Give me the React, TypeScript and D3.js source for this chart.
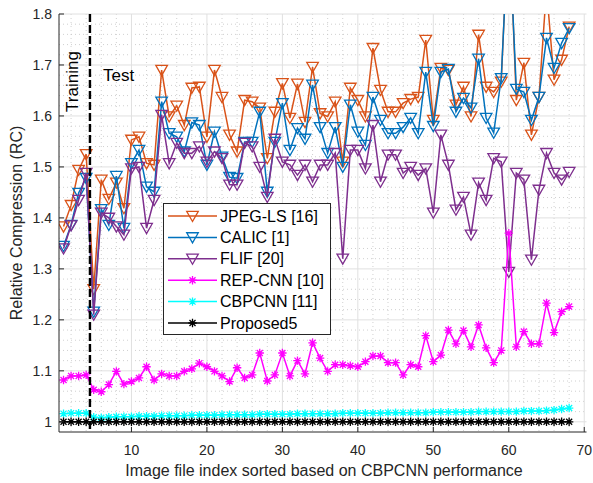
import { useEffect, useRef } from 'react';
import * as d3 from 'd3';

// Relative compression per image (index 1..68)
const jpegLs = [
  1.383, 1.425, 1.494, 1.525, 1.26, 1.475, 1.437, 1.469, 1.419, 1.553,
  1.559, 1.507, 1.504, 1.69, 1.599, 1.62, 1.582, 1.655, 1.657, 1.559,
  1.69, 1.637, 1.563, 1.53, 1.631, 1.628, 1.616, 1.517, 1.608, 1.664,
  1.596, 1.663, 1.588, 1.696, 1.605, 1.599, 1.628, 1.51, 1.655, 1.631,
  1.599, 1.733, 1.651, 1.608, 1.608, 1.625, 1.633, 1.637, 1.749, 1.592,
  1.694, 1.69, 1.622, 1.657, 1.599, 1.759, 1.657, 1.647, 1.667, 2.0,
  1.631, 1.704, 1.563, 1.637, 1.85, 1.671, 1.71, 1.775,
];
const calic = [
  1.345, 1.386, 1.449, 1.478, 1.216, 1.417, 1.386, 1.482, 1.38, 1.507,
  1.533, 1.461, 1.451, 1.628, 1.566, 1.559, 1.53, 1.587, 1.582, 1.504,
  1.569, 1.52, 1.48, 1.478, 1.549, 1.549, 1.608, 1.451, 1.549, 1.625,
  1.533, 1.576, 1.555, 1.661, 1.578, 1.527, 1.578, 1.5, 1.622, 1.569,
  1.543, 1.637, 1.592, 1.566, 1.566, 1.578, 1.596, 1.566, 1.686, 1.58,
  1.686, 1.692, 1.608, 1.635, 1.616, 1.712, 1.596, 1.567, 1.674, 1.98,
  1.653, 1.647, 1.592, 1.637, 1.753, 1.694, 1.743, 1.772,
];
const flif = [
  1.34, 1.385, 1.435, 1.488, 1.21, 1.41, 1.4, 1.383, 1.367, 1.497,
  1.5, 1.38, 1.435, 1.602, 1.507, 1.547, 1.527, 1.527, 1.54, 1.51,
  1.53, 1.517, 1.465, 1.465, 1.547, 1.54, 1.5, 1.441, 1.555, 1.51,
  1.504, 1.484, 1.504, 1.471, 1.504, 1.504, 1.527, 1.32, 1.533, 1.533,
  1.497, 1.582, 1.471, 1.524, 1.524, 1.488, 1.5, 1.484, 1.497, 1.41,
  1.563, 1.504, 1.416, 1.441, 1.367, 1.469, 1.435, 1.517, 1.51, 1.294,
  1.488, 1.475, 1.318, 1.455, 1.527, 1.488, 1.475, 1.49,
];
const repCnn = [
  1.082, 1.09, 1.09, 1.092, 1.063, 1.059, 1.073, 1.099, 1.074, 1.079,
  1.086, 1.108, 1.082, 1.094, 1.09, 1.09, 1.099, 1.104, 1.115, 1.108,
  1.099, 1.09, 1.079, 1.106, 1.086, 1.092, 1.135, 1.08, 1.092, 1.135,
  1.09, 1.12, 1.094, 1.155, 1.125, 1.099, 1.112, 1.112, 1.11, 1.108,
  1.118, 1.129, 1.129, 1.116, 1.116, 1.092, 1.112, 1.108, 1.169, 1.118,
  1.131, 1.18, 1.153, 1.179, 1.147, 1.19, 1.145, 1.116, 1.14, 1.37,
  1.147, 1.177, 1.153, 1.153, 1.233, 1.175, 1.216, 1.226,
];
const cbpCnn = [
  1.016, 1.017, 1.017, 1.017, 1.009, 1.008, 1.009, 1.01, 1.01, 1.01,
  1.011, 1.011, 1.011, 1.012, 1.012, 1.012, 1.012, 1.013, 1.013, 1.013,
  1.013, 1.014, 1.014, 1.014, 1.014, 1.014, 1.015, 1.015, 1.015, 1.015,
  1.015, 1.016, 1.016, 1.016, 1.016, 1.016, 1.016, 1.017, 1.017, 1.017,
  1.017, 1.017, 1.017, 1.018, 1.018, 1.018, 1.018, 1.018, 1.018, 1.019,
  1.019, 1.019, 1.019, 1.019, 1.019, 1.02, 1.02, 1.02, 1.02, 1.02,
  1.02, 1.021, 1.021, 1.021, 1.022, 1.023, 1.025, 1.027,
];
const proposed5 = [
  1, 1, 1, 1, 1, 1, 1, 1, 1, 1,
  1, 1, 1, 1, 1, 1, 1, 1, 1, 1,
  1, 1, 1, 1, 1, 1, 1, 1, 1, 1,
  1, 1, 1, 1, 1, 1, 1, 1, 1, 1,
  1, 1, 1, 1, 1, 1, 1, 1, 1, 1,
  1, 1, 1, 1, 1, 1, 1, 1, 1, 1,
  1, 1, 1, 1, 1, 1, 1, 1,
];

const seriesNames = ['JPEG-LS [16]', 'CALIC [1]', 'FLIF [20]', 'REP-CNN [10]', 'CBPCNN [11]', 'Proposed5'];
const xTicks = [10, 20, 30, 40, 50, 60, 70];
const yTicks = [1, 1.1, 1.2, 1.3, 1.4, 1.5, 1.6, 1.7, 1.8];
const trainingSplit = 4.5;

const FONT = '"Liberation Sans", Arial, Helvetica, sans-serif';
const AXIS = '#262626';

function trianglePath(s: number) {
  return `M${-s},${-s * 0.8}L${s},${-s * 0.8}L0,${s * 0.95}Z`;
}
function starPath(s: number) {
  const d = s * 0.72;
  return `M${-s},0L${s},0M0,${-s}L0,${s}M${-d},${-d}L${d},${d}M${-d},${d}L${d},${-d}`;
}

export default function App() {
  const svgRef = useRef<SVGSVGElement>(null);

  useEffect(() => {
    document.body.style.margin = '0';
    const W = 593;
    const H = 483;
    const left = 59, right = 586.5, top = 14, bottom = 432;

    const root = d3.select(svgRef.current);
    root.selectAll('*').remove();
    const svg = root.attr('width', W).attr('height', H).style('display', 'block');

    svg.append('rect').attr('width', W).attr('height', H).attr('fill', '#fff');

    const x = d3.scaleLinear().domain([0.4, 70.3]).range([left, right]);
    const y = d3.scaleLinear().domain([0.98, 1.8]).range([bottom, top]);

    svg.append('defs').append('clipPath').attr('id', 'plot-clip')
      .append('rect').attr('x', left).attr('y', top)
      .attr('width', right - left).attr('height', bottom - top);

    // grid
    const grid = svg.append('g');
    const minorX = d3.range(2, 71, 2).filter(v => v % 10 !== 0);
    const minorY = d3.range(1, 1.8, 0.02).filter(v => Math.abs(v * 10 - Math.round(v * 10)) > 0.01);
    grid.selectAll('.mx').data(minorX).join('line')
      .attr('x1', d => x(d)).attr('x2', d => x(d)).attr('y1', top).attr('y2', bottom)
      .attr('stroke', '#c4c4c4').attr('stroke-width', 0.8).attr('stroke-dasharray', '1 3');
    grid.selectAll('.my').data(minorY).join('line')
      .attr('x1', left).attr('x2', right).attr('y1', d => y(d)).attr('y2', d => y(d))
      .attr('stroke', '#c4c4c4').attr('stroke-width', 0.8).attr('stroke-dasharray', '1 3');
    grid.selectAll('.gx').data(xTicks).join('line')
      .attr('x1', d => x(d)).attr('x2', d => x(d)).attr('y1', top).attr('y2', bottom)
      .attr('stroke', '#e0e0e0').attr('stroke-width', 1);
    grid.selectAll('.gy').data(yTicks).join('line')
      .attr('x1', left).attr('x2', right).attr('y1', d => y(d)).attr('y2', d => y(d))
      .attr('stroke', '#e0e0e0').attr('stroke-width', 1);

    // series
    const plot = svg.append('g').attr('clip-path', 'url(#plot-clip)');
    const series = [
      { values: jpegLs, color: '#D95319', marker: 'tri' },
      { values: calic, color: '#0072BD', marker: 'tri' },
      { values: flif, color: '#7E2F8E', marker: 'tri' },
      { values: repCnn, color: '#FF00FF', marker: 'star' },
      { values: cbpCnn, color: '#00FFFF', marker: 'star' },
      { values: proposed5, color: '#000000', marker: 'star' },
    ];
    const line = d3.line<number>().x((_, i) => x(i + 1)).y(d => y(d));

    series.forEach(s => {
      plot.append('path').datum(s.values)
        .attr('fill', 'none').attr('stroke', s.color).attr('stroke-width', 1.5)
        .attr('d', line);
      plot.append('g').selectAll('path').data(s.values).join('path')
        .attr('transform', (d, i) => `translate(${x(i + 1)},${y(d)})`)
        .attr('d', s.marker === 'tri' ? trianglePath(5.8) : starPath(4.2))
        .attr('fill', 'none').attr('stroke', s.color).attr('stroke-width', 1.3);
    });

    // training / test split
    svg.append('line')
      .attr('x1', x(trainingSplit)).attr('x2', x(trainingSplit))
      .attr('y1', top).attr('y2', bottom)
      .attr('stroke', '#000').attr('stroke-width', 2.4).attr('stroke-dasharray', '8 3');
    svg.append('text')
      .attr('transform', `translate(78,81.5) rotate(-90)`)
      .attr('text-anchor', 'middle')
      .style('font-family', FONT).style('font-size', '17px').attr('fill', '#000')
      .text('Training');
    svg.append('text')
      .attr('x', 103).attr('y', 81)
      .style('font-family', FONT).style('font-size', '17px').attr('fill', '#000')
      .text('Test');

    // axes
    const ax = svg.append('g');
    ax.append('line').attr('x1', left).attr('x2', right).attr('y1', bottom).attr('y2', bottom)
      .attr('stroke', AXIS).attr('stroke-width', 1);
    ax.append('line').attr('x1', left).attr('x2', left).attr('y1', top).attr('y2', bottom)
      .attr('stroke', AXIS).attr('stroke-width', 1);
    ax.selectAll('.tx').data(xTicks).join('line')
      .attr('x1', d => x(d)).attr('x2', d => x(d)).attr('y1', bottom).attr('y2', bottom - 5)
      .attr('stroke', AXIS);
    ax.selectAll('.ty').data(yTicks).join('line')
      .attr('x1', left).attr('x2', left + 5).attr('y1', d => y(d)).attr('y2', d => y(d))
      .attr('stroke', AXIS);
    ax.selectAll('.lx').data(xTicks).join('text')
      .attr('x', d => x(d)).attr('y', 455).attr('text-anchor', 'middle')
      .style('font-family', FONT).style('font-size', '14px').attr('fill', AXIS)
      .text(d => String(d));
    ax.selectAll('.ly').data(yTicks).join('text')
      .attr('x', 52).attr('y', d => y(d) + 5).attr('text-anchor', 'end')
      .style('font-family', FONT).style('font-size', '14px').attr('fill', AXIS)
      .text(d => d3.format('~g')(d));

    svg.append('text')
      .attr('x', 324).attr('y', 476).attr('text-anchor', 'middle')
      .style('font-family', FONT).style('font-size', '16px').attr('fill', AXIS)
      .text('Image file index sorted based on CBPCNN performance');
    svg.append('text')
      .attr('transform', `translate(22,223) rotate(-90)`).attr('text-anchor', 'middle')
      .style('font-family', FONT).style('font-size', '16px').attr('fill', AXIS)
      .text('Relative Compression (RC)');

    // legend
    const lg = svg.append('g');
    lg.append('rect').attr('x', 163.5).attr('y', 203.5).attr('width', 167).attr('height', 131)
      .attr('fill', '#fff').attr('stroke', AXIS).attr('stroke-width', 1);
    series.forEach((s, i) => {
      const cy = 216 + i * 21.4;
      lg.append('line').attr('x1', 168).attr('x2', 217).attr('y1', cy).attr('y2', cy)
        .attr('stroke', s.color).attr('stroke-width', 1.5);
      lg.append('path').attr('transform', `translate(192.5,${cy})`)
        .attr('d', s.marker === 'tri' ? trianglePath(5.8) : starPath(4.2))
        .attr('fill', 'none').attr('stroke', s.color).attr('stroke-width', 1.3);
      lg.append('text').attr('x', 220).attr('y', cy + 5.5)
        .style('font-family', FONT).style('font-size', '16px').attr('fill', '#000')
        .text(seriesNames[i]);
    });
  }, []);

  return <svg ref={svgRef}></svg>;
}
